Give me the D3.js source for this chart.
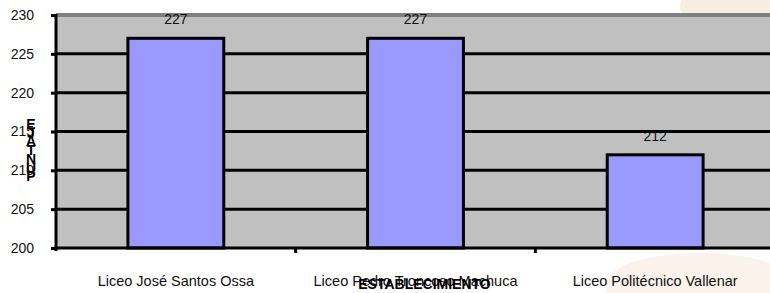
<!DOCTYPE html>
<html>
<head>
<meta charset="utf-8">
<script src="https://cdn.jsdelivr.net/npm/d3@7"></script>
<style>
  html, body { margin: 0; padding: 0; background: #fff; }
  svg { display: block; font-family: 'Liberation Sans', Arial, sans-serif; }
</style>
</head>
<body>
<div id="chart"></div>
<script>
const categories = ['Liceo José Santos Ossa', 'Liceo Pedro Troncoso Machuca', 'Liceo Politécnico Vallenar']
const scores = [227, 227, 212]
const yTicks = [200, 205, 210, 215, 220, 225, 230]
const yTitle = 'PUNTAJE'
const xTitle = 'ESTABLECIMIENTO'

const width = 770
const height = 293
const plotLeft = 56, plotRight = 775, plotTop = 15, plotBottom = 248

const svg = d3.select('#chart').append('svg')
  .attr('width', width)
  .attr('height', height)

// faint decorative background at the right
const deco = svg.append('g').attr('opacity', 0.45)
deco.append('ellipse')
  .attr('cx', 745).attr('cy', 8).attr('rx', 65).attr('ry', 30)
  .attr('fill', '#f1d9bf')
deco.append('ellipse')
  .attr('cx', 700).attr('cy', 285).attr('rx', 95).attr('ry', 32)
  .attr('fill', '#f3e3d2')

const x = d3.scaleBand()
  .domain(categories)
  .range([plotLeft, plotRight])
  .paddingInner(0.6)
  .paddingOuter(0.3)

const xb = d3.scaleBand().domain(categories).range([plotLeft, plotRight])

const y = d3.scaleLinear()
  .domain([200, 230])
  .range([plotBottom, plotTop])

// plot area
svg.append('rect')
  .attr('x', plotLeft).attr('y', plotTop)
  .attr('width', plotRight - plotLeft).attr('height', plotBottom - plotTop)
  .attr('fill', '#c0c0c0')

svg.append('line')
  .attr('x1', plotLeft).attr('x2', plotRight)
  .attr('y1', plotTop).attr('y2', plotTop)
  .attr('stroke', '#808080')
  .attr('stroke-width', 4)

// value labels (drawn under the gridlines, like the original)
svg.append('g').selectAll('text')
  .data(scores)
  .enter()
  .append('text')
  .attr('x', (d, i) => x(categories[i]) + x.bandwidth() / 2)
  .attr('y', d => y(d) - 14)
  .attr('text-anchor', 'middle')
  .attr('font-size', '14px')
  .attr('fill', '#111')
  .text(d => d)

// gridlines
svg.append('g').selectAll('line')
  .data(yTicks.filter(t => t > 200 && t < 230))
  .enter()
  .append('line')
  .attr('x1', plotLeft).attr('x2', plotRight)
  .attr('y1', d => y(d)).attr('y2', d => y(d))
  .attr('stroke', '#000')
  .attr('stroke-width', 3)

// bars
svg.append('g').selectAll('rect')
  .data(scores)
  .enter()
  .append('rect')
  .attr('x', (d, i) => x(categories[i]))
  .attr('y', d => y(d))
  .attr('width', x.bandwidth())
  .attr('height', d => y(200) - y(d))
  .attr('fill', '#9999ff')
  .attr('stroke', '#000')
  .attr('stroke-width', 3)

// y axis
const yAxis = svg.append('g')
  .attr('transform', `translate(${plotLeft},0)`)
  .call(d3.axisLeft(y).tickValues(yTicks).tickSize(5).tickPadding(17))
yAxis.select('.domain')
  .attr('stroke-width', 3)
  .attr('d', `M0,${plotTop - 1}V${plotBottom + 3}`)
yAxis.selectAll('.tick line').attr('stroke-width', 3)
yAxis.selectAll('.tick text')
  .attr('font-size', '14px')
  .attr('font-family', "'Liberation Sans', Arial, sans-serif")
  .attr('fill', '#111')

// x axis
const xAxis = svg.append('g')
  .attr('transform', `translate(0,${plotBottom})`)
xAxis.append('line')
  .attr('x1', plotLeft).attr('x2', plotRight)
  .attr('stroke', '#000')
  .attr('stroke-width', 3)
xAxis.selectAll('.sep')
  .data(categories.slice(1))
  .enter()
  .append('line')
  .attr('class', 'sep')
  .attr('x1', d => xb(d)).attr('x2', d => xb(d))
  .attr('y1', 0).attr('y2', 5)
  .attr('stroke', '#000')
  .attr('stroke-width', 3)
xAxis.selectAll('.cat')
  .data(categories)
  .enter()
  .append('text')
  .attr('class', 'cat')
  .attr('x', d => xb(d) + xb.bandwidth() / 2)
  .attr('y', 38)
  .attr('text-anchor', 'middle')
  .attr('font-size', '14.5px')
  .attr('fill', '#111')
  .text(d => d)

// axis titles
svg.append('text')
  .attr('x', xb(categories[1]) + xb.bandwidth() / 2 + 9)
  .attr('y', 289)
  .attr('text-anchor', 'middle')
  .attr('font-size', '14px')
  .attr('font-weight', 'bold')
  .attr('fill', '#000')
  .text(xTitle)

svg.append('g').selectAll('text')
  .data(yTitle.split('').reverse())
  .enter()
  .append('text')
  .attr('x', 31)
  .attr('y', (d, i) => 129 + i * 8.7)
  .attr('text-anchor', 'middle')
  .attr('font-size', '14px')
  .attr('font-weight', 'bold')
  .attr('fill', '#000')
  .text(d => d)
</script>
</body>
</html>
